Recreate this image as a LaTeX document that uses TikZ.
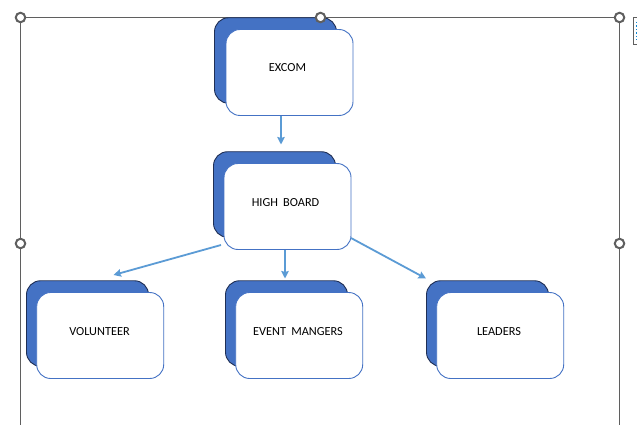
\documentclass[tikz,border=0pt]{standalone}
\usepackage{fontspec}
\setmainfont{Carlito}
\usetikzlibrary{arrows.meta}
\definecolor{backfill}{HTML}{4472C4}
\definecolor{backline}{HTML}{1F2F55}
\definecolor{frontline}{HTML}{4472C4}
\definecolor{arrowblue}{HTML}{5B9BD5}
\definecolor{framegrey}{HTML}{5F5F5F}
\tikzset{
  backbox/.style={draw=backline,fill=backfill,line width=0.9pt,rounded corners=14pt,minimum width=122pt,minimum height=85.5pt,inner sep=0pt},
  frontbox/.style={draw=frontline,fill=white,line width=0.9pt,rounded corners=14pt,minimum width=127pt,minimum height=86pt,inner sep=0pt},
  boxtext/.style={font=\fontsize{12.3pt}{14pt}\selectfont,text=black,inner sep=0pt},
  link/.style={draw=arrowblue,line width=1.8pt,-{Stealth[length=7.5pt,width=7.5pt,inset=1pt]}},
  frameline/.style={draw=framegrey,line width=1.1pt},
  handle/.style={circle,draw=framegrey,fill=white,line width=2pt,minimum size=9.5pt,inner sep=0pt},
}
\begin{document}
\begin{tikzpicture}[x=1pt,y=-1pt]
\useasboundingbox (0,0) rectangle (637,425);
\fill[white] (0,0) rectangle (637,425);
% selection frame
\coordinate (ftl) at (20.5,17.5);
\coordinate (ftr) at (619.5,17.5);
\coordinate (fbl) at (20.5,425);
\coordinate (fbr) at (619.5,425);
\draw[frameline] (fbl) -- (ftl) -- (ftr) -- (fbr);
% boxes
\node[backbox] (excomb) at (275.5,60.5) {};
\node[frontbox] (excomf) at (289.5,72.5) {};
\node[boxtext] (excomt) at (287.5,67.5) {EXCOM};
\node[backbox] (highb) at (274.5,194.5) {};
\node[frontbox] (highf) at (287.5,206.5) {};
\node[boxtext] (hight) at (285.5,202.5) {HIGH\hspace{0.2em} BOARD};
\node[backbox] (volb) at (87.5,323.5) {};
\node[frontbox] (volf) at (100.2,335.5) {};
\node[boxtext] (volt) at (99.5,331.5) {VOLUNTEER};
\node[backbox] (evb) at (286.5,323.5) {};
\node[frontbox] (evf) at (299.2,335.5) {};
\node[boxtext] (evt) at (298,331.5) {EVENT\hspace{0.2em} MANGERS};
\node[backbox] (leab) at (487.5,323.5) {};
\node[frontbox] (leaf) at (500.2,335.5) {};
\node[boxtext] (leat) at (499,331.5) {LEADERS};
% connector ends
\coordinate (a1) at (281,144.5);
\coordinate (s2) at (221,245);
\coordinate (a2) at (113.5,275);
\coordinate (a3) at (285,278.5);
\coordinate (s4) at (351,238);
\coordinate (a4) at (426,278.5);
\draw[link] (excomf.south -| a1) -- (a1);
\draw[link] (s2) -- (a2);
\draw[link] (highf.south -| a3) -- (a3);
\draw[link] (s4) -- (a4);
% handles
\node[handle] (h1) at (20.5,17.5) {};
\node[handle] (h2) at (320.5,17.5) {};
\node[handle] (h3) at (619.5,17.5) {};
\node[handle] (h4) at (20.5,243.5) {};
\node[handle] (h5) at (619.5,243.5) {};
% side tab
\draw[framegrey,line width=0.8pt] (637,17.5) -- (633.5,17.5) -- (633.5,44.5) -- (637,44.5);
\draw[draw=cyan!70!blue,line width=1.2pt,dash pattern=on 1.5pt off 2pt] (636.5,22) -- (636.5,40);
\end{tikzpicture}
\end{document}
